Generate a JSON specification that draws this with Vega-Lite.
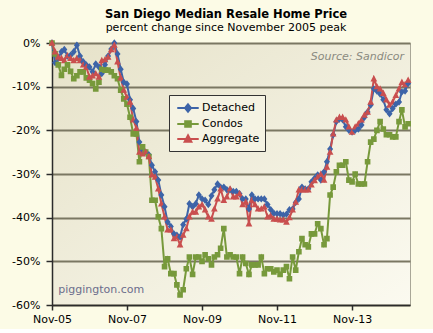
{
  "$schema": "https://vega.github.io/schema/vega-lite/v6.json",
  "width": 358,
  "height": 262,
  "padding": {"left": 11, "top": 8, "right": 23, "bottom": 5},
  "background": "#FCFBE6",
  "title": {
    "text": "San Diego Median Resale Home Price",
    "subtitle": "percent change since November 2005 peak",
    "font": "DejaVu Sans",
    "fontSize": 11.5,
    "fontWeight": "bold",
    "subtitleFont": "DejaVu Sans",
    "subtitleFontSize": 11,
    "subtitleColor": "#000000",
    "color": "#000000",
    "anchor": "middle",
    "dx": -5,
    "offset": 4,
    "subtitlePadding": 2
  },
  "datasets": {
    "prices": [
      {"d": "2005/11/01", "Detached": 0, "Condos": 0, "Aggregate": 0},
      {"d": "2005/12/01", "Detached": -4.5, "Condos": -2.5, "Aggregate": -2},
      {"d": "2006/01/01", "Detached": -3.5, "Condos": -5, "Aggregate": -3.2},
      {"d": "2006/02/01", "Detached": -2, "Condos": -7.4, "Aggregate": -3.5},
      {"d": "2006/03/01", "Detached": -1.5, "Condos": -6, "Aggregate": -4},
      {"d": "2006/04/01", "Detached": -3, "Condos": -5, "Aggregate": -2.9},
      {"d": "2006/05/01", "Detached": -2.8, "Condos": -6.5, "Aggregate": -3.5},
      {"d": "2006/06/01", "Detached": -2, "Condos": -8.2, "Aggregate": -4},
      {"d": "2006/07/01", "Detached": -0.5, "Condos": -7.5, "Aggregate": -3.5},
      {"d": "2006/08/01", "Detached": -3, "Condos": -6.6, "Aggregate": -4},
      {"d": "2006/09/01", "Detached": -4.3, "Condos": -6.6, "Aggregate": -5},
      {"d": "2006/10/01", "Detached": -5, "Condos": -8, "Aggregate": -5.5},
      {"d": "2006/11/01", "Detached": -5.5, "Condos": -8.5, "Aggregate": -7.8},
      {"d": "2006/12/01", "Detached": -6.6, "Condos": -9.3, "Aggregate": -7.5},
      {"d": "2007/01/01", "Detached": -4.8, "Condos": -10.5, "Aggregate": -7},
      {"d": "2007/02/01", "Detached": -5.5, "Condos": -9, "Aggregate": -7.8},
      {"d": "2007/03/01", "Detached": -7, "Condos": -6, "Aggregate": -4},
      {"d": "2007/04/01", "Detached": -5, "Condos": -6.2, "Aggregate": -3.8},
      {"d": "2007/05/01", "Detached": -3, "Condos": -6.2, "Aggregate": -3.2},
      {"d": "2007/06/01", "Detached": -1.4, "Condos": -6.6, "Aggregate": -1.5},
      {"d": "2007/07/01", "Detached": 0, "Condos": -7.5, "Aggregate": -0.5},
      {"d": "2007/08/01", "Detached": -2.5, "Condos": -8.2, "Aggregate": -4.3},
      {"d": "2007/09/01", "Detached": -6, "Condos": -10.8, "Aggregate": -8},
      {"d": "2007/10/01", "Detached": -9, "Condos": -12.8, "Aggregate": -10.8},
      {"d": "2007/11/01", "Detached": -9.4, "Condos": -14, "Aggregate": -12.4},
      {"d": "2007/12/01", "Detached": -13, "Condos": -17, "Aggregate": -13.5},
      {"d": "2008/01/01", "Detached": -15, "Condos": -20.8, "Aggregate": -17.6},
      {"d": "2008/02/01", "Detached": -18, "Condos": -20.8, "Aggregate": -19.5},
      {"d": "2008/03/01", "Detached": -22.7, "Condos": -27.2, "Aggregate": -25},
      {"d": "2008/04/01", "Detached": -24.5, "Condos": -23.8, "Aggregate": -25.4},
      {"d": "2008/05/01", "Detached": -25, "Condos": -25, "Aggregate": -25},
      {"d": "2008/06/01", "Detached": -25.6, "Condos": -26, "Aggregate": -26},
      {"d": "2008/07/01", "Detached": -28, "Condos": -36, "Aggregate": -30.2},
      {"d": "2008/08/01", "Detached": -29.5, "Condos": -36, "Aggregate": -30.7},
      {"d": "2008/09/01", "Detached": -31.4, "Condos": -39.8, "Aggregate": -33.4},
      {"d": "2008/10/01", "Detached": -34.8, "Condos": -42.5, "Aggregate": -36.8},
      {"d": "2008/11/01", "Detached": -37.5, "Condos": -51.2, "Aggregate": -39.8},
      {"d": "2008/12/01", "Detached": -41, "Condos": -49.4, "Aggregate": -42.8},
      {"d": "2009/01/01", "Detached": -42, "Condos": -52.8, "Aggregate": -42.8},
      {"d": "2009/02/01", "Detached": -43.7, "Condos": -52.8, "Aggregate": -44.8},
      {"d": "2009/03/01", "Detached": -44, "Condos": -55.4, "Aggregate": -44.4},
      {"d": "2009/04/01", "Detached": -44.4, "Condos": -57.7, "Aggregate": -46.2},
      {"d": "2009/05/01", "Detached": -41.6, "Condos": -56.5, "Aggregate": -44},
      {"d": "2009/06/01", "Detached": -40.3, "Condos": -51.7, "Aggregate": -42.5},
      {"d": "2009/07/01", "Detached": -36.8, "Condos": -49, "Aggregate": -39.8},
      {"d": "2009/08/01", "Detached": -37.5, "Condos": -53, "Aggregate": -38.7},
      {"d": "2009/09/01", "Detached": -36.8, "Condos": -49, "Aggregate": -38.7},
      {"d": "2009/10/01", "Detached": -34.8, "Condos": -49, "Aggregate": -37.5},
      {"d": "2009/11/01", "Detached": -35.7, "Condos": -50, "Aggregate": -37},
      {"d": "2009/12/01", "Detached": -36, "Condos": -48.5, "Aggregate": -38.2},
      {"d": "2010/01/01", "Detached": -37, "Condos": -49.4, "Aggregate": -39.8},
      {"d": "2010/02/01", "Detached": -35, "Condos": -50.8, "Aggregate": -40.3},
      {"d": "2010/03/01", "Detached": -33.6, "Condos": -49, "Aggregate": -38},
      {"d": "2010/04/01", "Detached": -32.3, "Condos": -48.5, "Aggregate": -35.7},
      {"d": "2010/05/01", "Detached": -33, "Condos": -47, "Aggregate": -33.4},
      {"d": "2010/06/01", "Detached": -33, "Condos": -42.5, "Aggregate": -36},
      {"d": "2010/07/01", "Detached": -33.6, "Condos": -49, "Aggregate": -35.2},
      {"d": "2010/08/01", "Detached": -33.6, "Condos": -48.5, "Aggregate": -33.4},
      {"d": "2010/09/01", "Detached": -34, "Condos": -49, "Aggregate": -35.2},
      {"d": "2010/10/01", "Detached": -34, "Condos": -49, "Aggregate": -35.2},
      {"d": "2010/11/01", "Detached": -34.5, "Condos": -52.8, "Aggregate": -34.5},
      {"d": "2010/12/01", "Detached": -35.7, "Condos": -49, "Aggregate": -37},
      {"d": "2011/01/01", "Detached": -35.7, "Condos": -50.5, "Aggregate": -36.4},
      {"d": "2011/02/01", "Detached": -38, "Condos": -53, "Aggregate": -41.4},
      {"d": "2011/03/01", "Detached": -34.8, "Condos": -50.8, "Aggregate": -36},
      {"d": "2011/04/01", "Detached": -35.7, "Condos": -50.8, "Aggregate": -37},
      {"d": "2011/05/01", "Detached": -35.7, "Condos": -50.8, "Aggregate": -38},
      {"d": "2011/06/01", "Detached": -35.7, "Condos": -49, "Aggregate": -38},
      {"d": "2011/07/01", "Detached": -35.7, "Condos": -52.8, "Aggregate": -37.5},
      {"d": "2011/08/01", "Detached": -37, "Condos": -51.7, "Aggregate": -39.8},
      {"d": "2011/09/01", "Detached": -38.2, "Condos": -51.7, "Aggregate": -39.5},
      {"d": "2011/10/01", "Detached": -39, "Condos": -52.4, "Aggregate": -40.3},
      {"d": "2011/11/01", "Detached": -39.1, "Condos": -52, "Aggregate": -40.3},
      {"d": "2011/12/01", "Detached": -39.1, "Condos": -53, "Aggregate": -40.5},
      {"d": "2012/01/01", "Detached": -39.4, "Condos": -52, "Aggregate": -40.5},
      {"d": "2012/02/01", "Detached": -39.2, "Condos": -51.2, "Aggregate": -41},
      {"d": "2012/03/01", "Detached": -38.2, "Condos": -54, "Aggregate": -40},
      {"d": "2012/04/01", "Detached": -38, "Condos": -49, "Aggregate": -38.2},
      {"d": "2012/05/01", "Detached": -36.5, "Condos": -52, "Aggregate": -36.4},
      {"d": "2012/06/01", "Detached": -35.7, "Condos": -47.8, "Aggregate": -33.6},
      {"d": "2012/07/01", "Detached": -33, "Condos": -44.8, "Aggregate": -33.6},
      {"d": "2012/08/01", "Detached": -33.4, "Condos": -46.2, "Aggregate": -33.6},
      {"d": "2012/09/01", "Detached": -33.4, "Condos": -46.7, "Aggregate": -33.6},
      {"d": "2012/10/01", "Detached": -31.8, "Condos": -43.7, "Aggregate": -32.5},
      {"d": "2012/11/01", "Detached": -31, "Condos": -43.7, "Aggregate": -31.5},
      {"d": "2012/12/01", "Detached": -30.2, "Condos": -41.4, "Aggregate": -30.7},
      {"d": "2013/01/01", "Detached": -31.4, "Condos": -42.5, "Aggregate": -30},
      {"d": "2013/02/01", "Detached": -29.5, "Condos": -46.2, "Aggregate": -31.4},
      {"d": "2013/03/01", "Detached": -27.2, "Condos": -44.8, "Aggregate": -28.4},
      {"d": "2013/04/01", "Detached": -24.3, "Condos": -34.8, "Aggregate": -25},
      {"d": "2013/05/01", "Detached": -21, "Condos": -33, "Aggregate": -20.8},
      {"d": "2013/06/01", "Detached": -18, "Condos": -29.5, "Aggregate": -17.6},
      {"d": "2013/07/01", "Detached": -17.4, "Condos": -28, "Aggregate": -17},
      {"d": "2013/08/01", "Detached": -17.6, "Condos": -28, "Aggregate": -17},
      {"d": "2013/09/01", "Detached": -19.2, "Condos": -27.2, "Aggregate": -17.6},
      {"d": "2013/10/01", "Detached": -20, "Condos": -31.4, "Aggregate": -19.2},
      {"d": "2013/11/01", "Detached": -20.4, "Condos": -31.8, "Aggregate": -20.4},
      {"d": "2013/12/01", "Detached": -20, "Condos": -30, "Aggregate": -19.2},
      {"d": "2014/01/01", "Detached": -19.7, "Condos": -32.3, "Aggregate": -18.5},
      {"d": "2014/02/01", "Detached": -18.8, "Condos": -32.3, "Aggregate": -17.6},
      {"d": "2014/03/01", "Detached": -17, "Condos": -32.3, "Aggregate": -16.5},
      {"d": "2014/04/01", "Detached": -15.8, "Condos": -27.2, "Aggregate": -15.8},
      {"d": "2014/05/01", "Detached": -14.2, "Condos": -22.7, "Aggregate": -13.5},
      {"d": "2014/06/01", "Detached": -10.5, "Condos": -22, "Aggregate": -8.2},
      {"d": "2014/07/01", "Detached": -11, "Condos": -20, "Aggregate": -10},
      {"d": "2014/08/01", "Detached": -11.7, "Condos": -18, "Aggregate": -10.5},
      {"d": "2014/09/01", "Detached": -13, "Condos": -19.7, "Aggregate": -11.5},
      {"d": "2014/10/01", "Detached": -15.3, "Condos": -21, "Aggregate": -13},
      {"d": "2014/11/01", "Detached": -16.2, "Condos": -21, "Aggregate": -14.2},
      {"d": "2014/12/01", "Detached": -15, "Condos": -21.5, "Aggregate": -13.5},
      {"d": "2015/01/01", "Detached": -14, "Condos": -21.5, "Aggregate": -12},
      {"d": "2015/02/01", "Detached": -13.5, "Condos": -18, "Aggregate": -10.5},
      {"d": "2015/03/01", "Detached": -11.2, "Condos": -15.3, "Aggregate": -9},
      {"d": "2015/04/01", "Detached": -11, "Condos": -19.2, "Aggregate": -9.5},
      {"d": "2015/05/01", "Detached": -9.3, "Condos": -18.5, "Aggregate": -8.5}
    ],
    "notes": [
      {"d": "2015/03/22", "v": -3.2, "note": "Source: Sandicor", "kind": "source"},
      {"d": "2006/01/01", "v": -56.5, "note": "piggington.com", "kind": "site"}
    ]
  },
  "layer": [
    {
      "data": {"name": "prices"},
      "transform": [{"fold": ["Detached", "Condos", "Aggregate"], "as": ["series", "pct"]}],
      "mark": {"type": "line", "strokeWidth": 2},
      "encoding": {
        "x": {
          "field": "d",
          "type": "temporal",
          "title": null,
          "scale": {"domain": [{"year": 2005, "month": 11, "date": 1}, {"year": 2015, "month": 5, "date": 19}]},
          "axis": {
            "values": [
              {"year": 2005, "month": 11, "date": 1}, {"year": 2006, "month": 11, "date": 1},
              {"year": 2007, "month": 11, "date": 1}, {"year": 2008, "month": 11, "date": 1},
              {"year": 2009, "month": 11, "date": 1}, {"year": 2010, "month": 11, "date": 1},
              {"year": 2011, "month": 11, "date": 1}, {"year": 2012, "month": 11, "date": 1},
              {"year": 2013, "month": 11, "date": 1}, {"year": 2014, "month": 11, "date": 1}
            ],
            "labelExpr": "(year(datum.value) - 2005) % 2 == 0 ? timeFormat(datum.value, '%b-%y') : ''",
            "grid": false,
            "domainColor": "#2b2b2b",
            "domainWidth": 1.5,
            "tickColor": "#2b2b2b",
            "tickWidth": 1.5,
            "tickSize": 5,
            "labelPadding": 3,
            "labelFont": "DejaVu Sans",
            "labelFontSize": 11,
            "labelColor": "#000000",
            "labelOverlap": false,
            "labelFlush": false
          }
        },
        "y": {
          "field": "pct",
          "type": "quantitative",
          "title": null,
          "scale": {"domain": [-60, 0], "nice": false, "zero": false},
          "axis": {
            "values": [-60, -50, -40, -30, -20, -10, 0],
            "labelExpr": "datum.value + '%'",
            "grid": true,
            "gridColor": "#7a7762",
            "gridWidth": 2,
            "domainColor": "#2b2b2b",
            "domainWidth": 1.5,
            "tickColor": "#2b2b2b",
            "tickWidth": 1.5,
            "tickSize": 6,
            "labelPadding": 6,
            "labelFont": "DejaVu Sans",
            "labelFontSize": 11,
            "labelColor": "#000000"
          }
        },
        "color": {
          "field": "series",
          "type": "nominal",
          "scale": {"domain": ["Detached", "Condos", "Aggregate"], "range": ["#3d64a8", "#77993b", "#c94f4f"]},
          "legend": {
            "title": null,
            "orient": "none",
            "legendX": 117,
            "legendY": 52,
            "fillColor": "#F5F3E3",
            "strokeColor": "#333333",
            "padding": 5,
            "labelFont": "DejaVu Sans",
            "labelFontSize": 11,
            "labelColor": "#000000",
            "symbolSize": 180,
            "symbolOffset": 6,
            "labelOffset": 6,
            "rowPadding": 0,
            "encode": {
              "symbols": {"update": {"stroke": {"signal": "scale('color', datum.value)"}, "strokeWidth": {"value": 2}}}
            }
          }
        }
      }
    },
    {
      "data": {"name": "prices"},
      "transform": [{"fold": ["Detached", "Condos", "Aggregate"], "as": ["series", "pct"]}],
      "mark": {"type": "point", "filled": true, "opacity": 1, "size": 180},
      "encoding": {
        "x": {"field": "d", "type": "temporal"},
        "y": {"field": "pct", "type": "quantitative"},
        "color": {"field": "series", "type": "nominal"},
        "shape": {
          "field": "series",
          "type": "nominal",
          "scale": {
            "domain": ["Detached", "Condos", "Aggregate"],
            "range": [
              "M-1.6,0H1.6M0,-0.55L0.45,0L0,0.55L-0.45,0Z",
              "M-1.6,0H1.6M-0.42,-0.42H0.42V0.42H-0.42Z",
              "M-1.6,0H1.6M0,-0.55L0.5,0.4H-0.5Z"
            ]
          },
          "legend": {
            "title": null,
            "orient": "none",
            "legendX": 117,
            "legendY": 52,
            "fillColor": "#F5F3E3",
            "strokeColor": "#333333",
            "padding": 5,
            "labelFont": "DejaVu Sans",
            "labelFontSize": 11,
            "labelColor": "#000000",
            "symbolSize": 180,
            "symbolOffset": 6,
            "labelOffset": 6,
            "rowPadding": 0,
            "encode": {
              "symbols": {"update": {"stroke": {"signal": "scale('color', datum.value)"}, "strokeWidth": {"value": 2}}}
            }
          }
        }
      }
    },
    {
      "data": {"name": "notes"},
      "transform": [{"filter": "datum.kind == 'source'"}],
      "mark": {"type": "text", "align": "right", "baseline": "middle", "font": "DejaVu Sans", "fontSize": 11, "fontStyle": "italic", "fill": "#8a8a80"},
      "encoding": {
        "x": {"field": "d", "type": "temporal"},
        "y": {"field": "v", "type": "quantitative"},
        "text": {"field": "note"}
      }
    },
    {
      "data": {"name": "notes"},
      "transform": [{"filter": "datum.kind == 'site'"}],
      "mark": {"type": "text", "align": "left", "baseline": "middle", "font": "DejaVu Sans", "fontSize": 11, "fill": "#6b6d8c"},
      "encoding": {
        "x": {"field": "d", "type": "temporal"},
        "y": {"field": "v", "type": "quantitative"},
        "text": {"field": "note"}
      }
    }
  ],
  "config": {
    "view": {
      "stroke": "#a9a797",
      "fill": {"gradient": "linear", "x1": 0, "y1": 0, "x2": 1, "y2": 1, "stops": [{"offset": 0, "color": "#E6E2C9"}, {"offset": 1, "color": "#FBFAF0"}]}
    }
  }
}
